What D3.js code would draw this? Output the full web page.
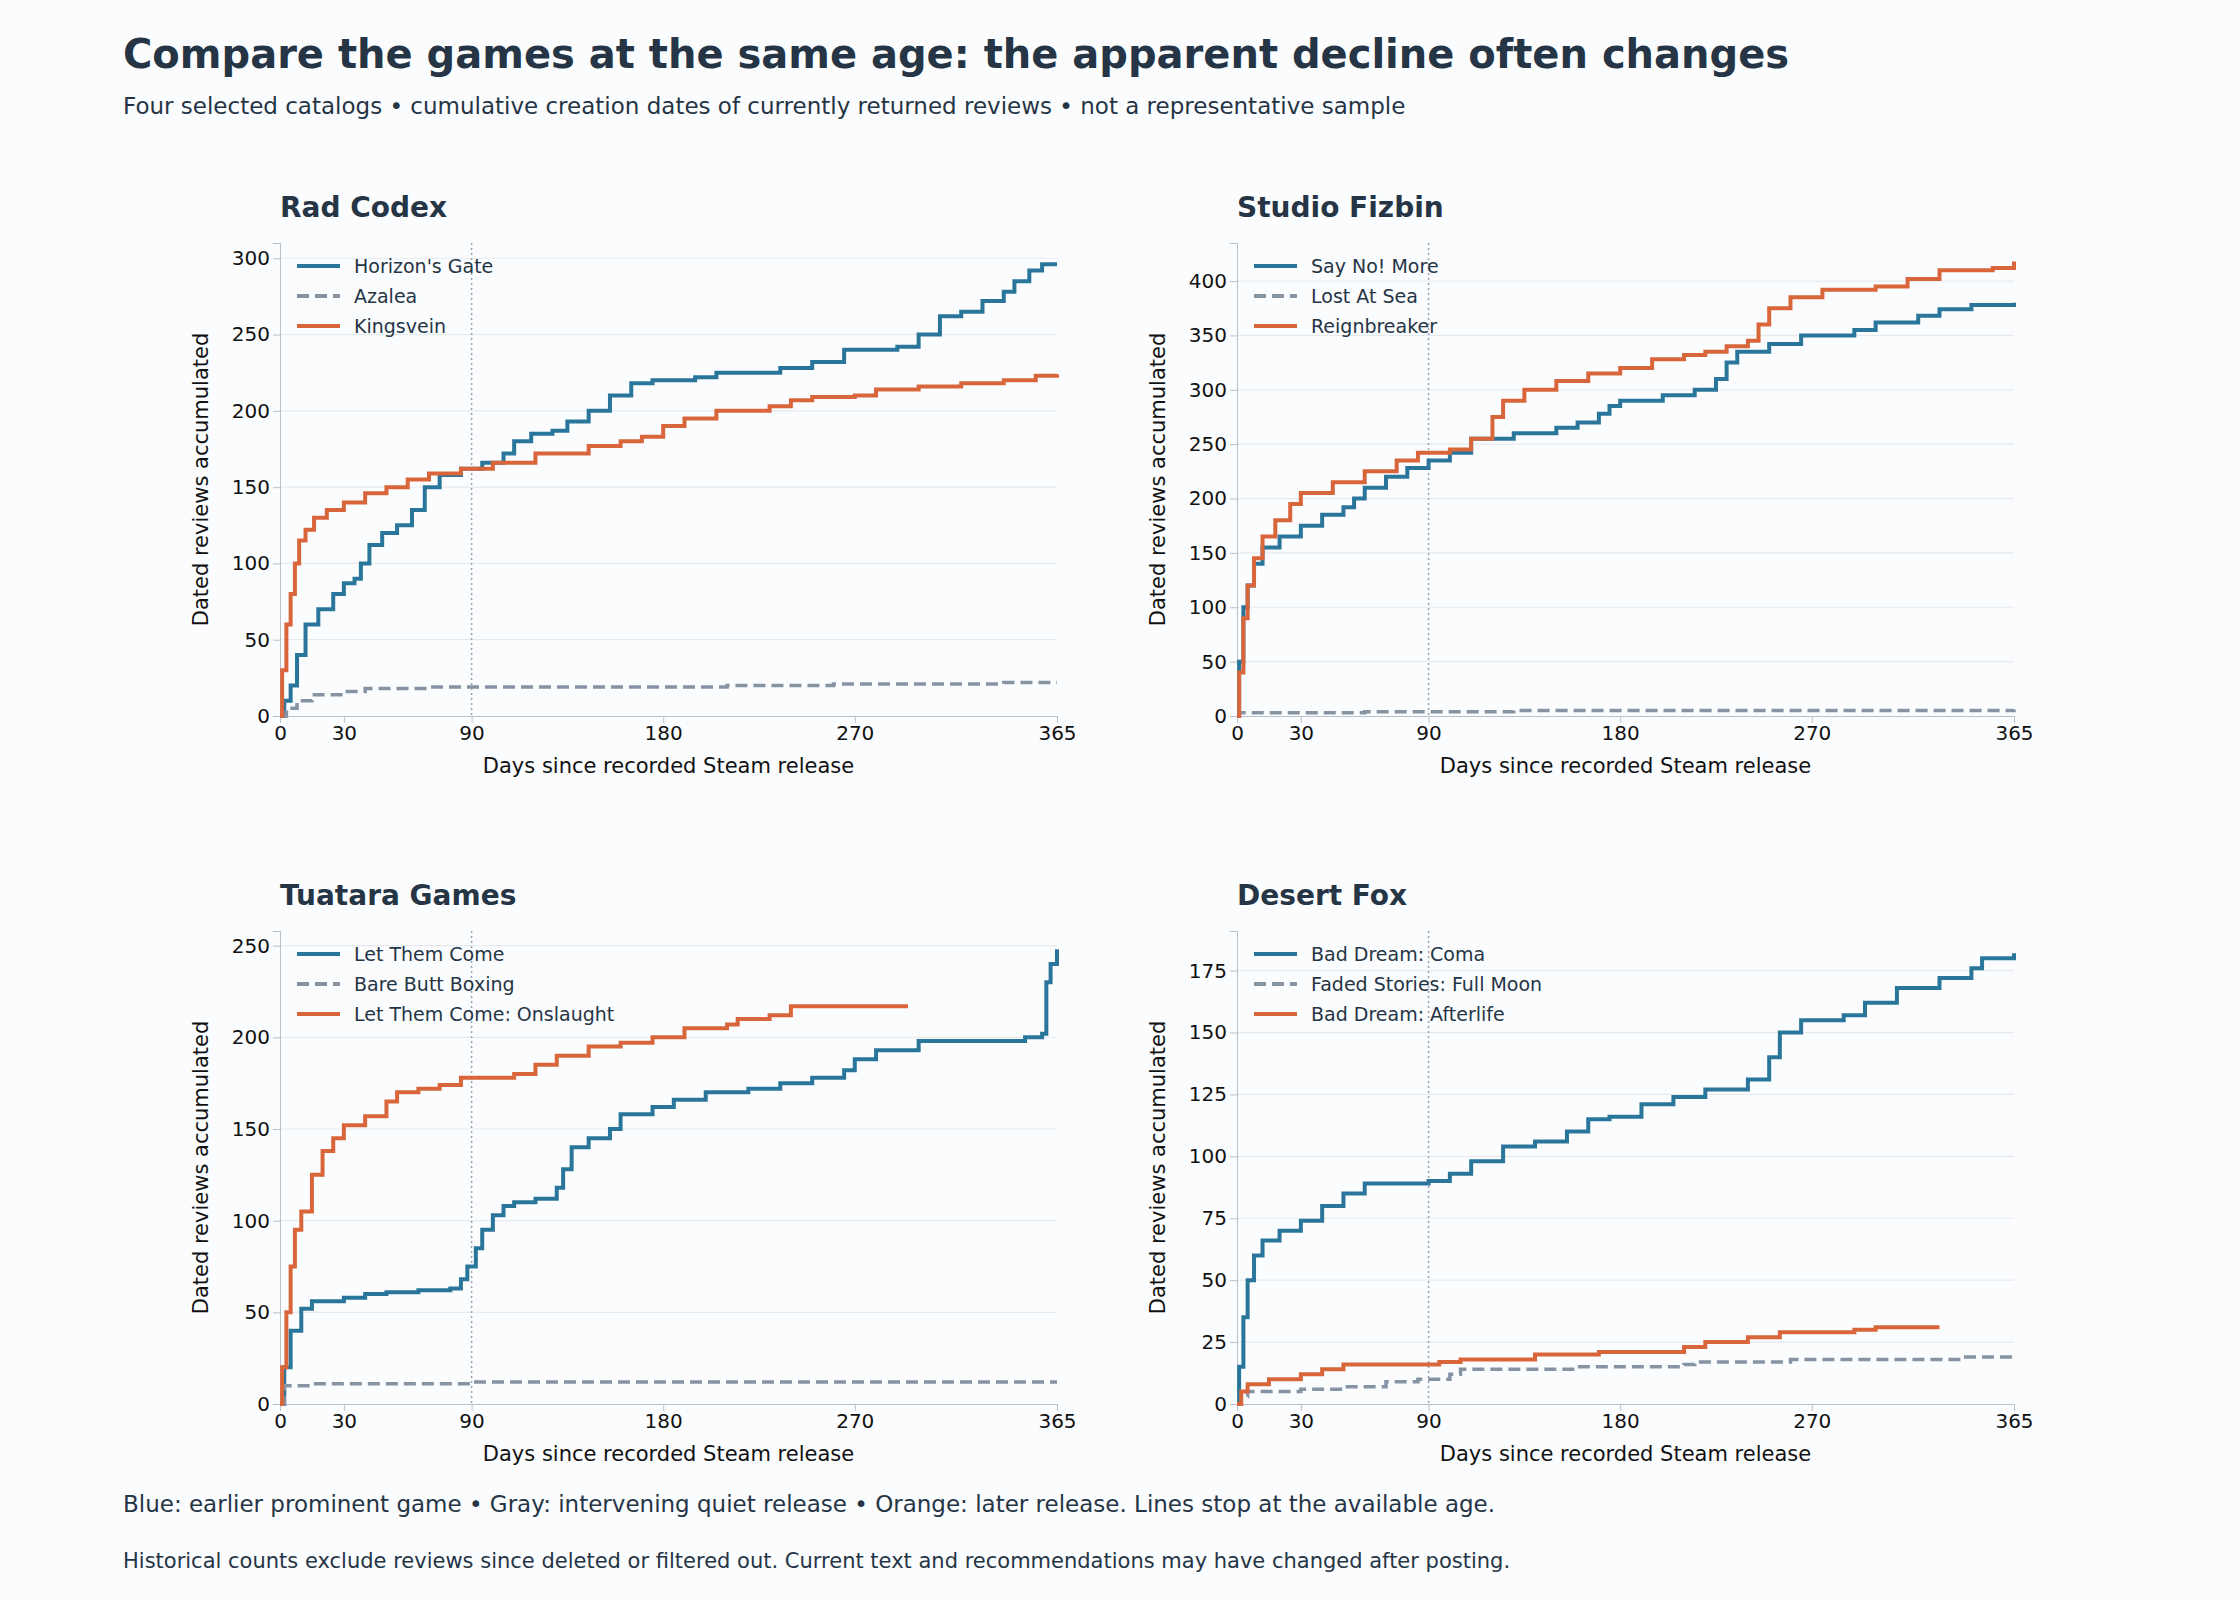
<!DOCTYPE html>
<html><head><meta charset="utf-8">
<script src="https://cdn.jsdelivr.net/npm/d3@7"></script>
<style>body{margin:0;background:#fbfcfe;font-family:"DejaVu Sans",sans-serif;}</style>
</head><body><svg id="c" width="2240" height="1600"></svg>
<script>
const xTicks=[0,30,90,180,270,365];
const panelTitles=["Rad Codex","Studio Fizbin","Tuatara Games","Desert Fox"];
const seriesNames=[["Horizon's Gate","Azalea","Kingsvein"],["Say No! More","Lost At Sea","Reignbreaker"],["Let Them Come","Bare Butt Boxing","Let Them Come: Onslaught"],["Bad Dream: Coma","Faded Stories: Full Moon","Bad Dream: Afterlife"]];
const yMax=[310,435,258,191];
const yTicks=[[0,50,100,150,200,250,300],[0,50,100,150,200,250,300,350,400],[0,50,100,150,200,250],[0,25,50,75,100,125,150,175]];
const radBlue=[[0,0],[2,10],[5,20],[8,40],[12,60],[18,70],[25,80],[30,87],[35,90],[38,100],[42,112],[48,120],[55,125],[62,135],[68,150],[75,158],[85,162],[95,166],[105,172],[110,180],[118,185],[128,187],[135,193],[145,200],[155,210],[165,218],[175,220],[195,222],[205,225],[235,228],[250,232],[265,240],[290,242],[300,250],[310,262],[320,265],[330,272],[340,278],[345,285],[352,292],[358,296],[365,296]];
const radGray=[[0,0],[3,5],[8,10],[15,14],[30,16],[40,18],[70,19],[200,19],[210,20],[260,21],[340,22],[365,22]];
const radOrange=[[0,0],[1,30],[3,60],[5,80],[7,100],[9,115],[12,122],[16,130],[22,135],[30,140],[40,146],[50,150],[60,155],[70,159],[85,162],[100,166],[120,172],[145,177],[160,180],[170,183],[180,190],[190,195],[205,200],[230,203],[240,207],[250,209],[270,210],[280,214],[300,216],[320,218],[340,220],[355,223],[365,224]];
const fizBlue=[[0,0],[1,50],[3,100],[5,120],[8,140],[12,155],[20,165],[30,175],[40,185],[50,192],[55,200],[60,210],[70,220],[80,228],[90,235],[100,242],[110,255],[130,260],[150,265],[160,270],[170,278],[175,285],[180,290],[200,295],[215,300],[225,310],[230,325],[235,335],[250,342],[265,350],[290,355],[300,362],[320,368],[330,374],[345,378],[365,380]];
const fizGray=[[0,0],[1,3],[60,4],[130,5],[365,6]];
const fizOrange=[[0,0],[1,40],[3,90],[5,120],[8,145],[12,165],[18,180],[25,195],[30,205],[45,215],[60,225],[75,235],[85,242],[100,245],[110,255],[120,275],[125,290],[135,300],[150,308],[165,315],[180,320],[195,328],[210,332],[220,335],[230,340],[240,345],[245,360],[250,375],[260,385],[275,392],[300,395],[315,402],[330,410],[355,412],[365,418]];
const tuaBlue=[[0,0],[2,20],[5,40],[10,52],[15,56],[30,58],[40,60],[50,61],[65,62],[80,63],[85,68],[88,75],[92,85],[95,95],[100,103],[105,108],[110,110],[120,112],[130,118],[133,128],[137,140],[145,145],[155,150],[160,158],[175,162],[185,166],[200,170],[220,172],[235,175],[250,178],[265,182],[270,188],[280,193],[300,198],[350,200],[358,202],[360,230],[362,240],[365,248]];
const tuaGray=[[0,0],[2,10],[15,11],[90,12],[365,12]];
const tuaOrange=[[0,0],[1,20],[3,50],[5,75],[7,95],[10,105],[15,125],[20,138],[25,145],[30,152],[40,157],[50,165],[55,170],[65,172],[75,174],[85,178],[100,178],[110,180],[120,185],[130,190],[145,195],[160,197],[175,200],[190,205],[210,207],[215,210],[230,212],[240,217],[295,217]];
const foxBlue=[[0,0],[1,15],[3,35],[5,50],[8,60],[12,66],[20,70],[30,74],[40,80],[50,85],[60,89],[75,89],[90,90],[100,93],[110,98],[125,104],[140,106],[155,110],[165,115],[175,116],[190,121],[205,124],[220,127],[240,131],[250,140],[255,150],[265,155],[285,157],[295,162],[310,168],[330,172],[345,176],[350,180],[365,182]];
const foxGray=[[0,0],[2,3],[5,5],[30,6],[50,7],[70,9],[85,10],[100,12],[105,14],[160,15],[210,16],[215,17],[260,18],[330,18],[340,19],[365,19]];
const foxOrange=[[0,0],[2,5],[5,8],[15,10],[30,12],[40,14],[50,16],[95,17],[105,18],[140,20],[170,21],[210,23],[220,25],[240,27],[255,29],[290,30],[300,31],[330,31]];
const panelData=[[radBlue,radGray,radOrange],[fizBlue,fizGray,fizOrange],[tuaBlue,tuaGray,tuaOrange],[foxBlue,foxGray,foxOrange]];

const colors=["#2a769b","#8593a3","#d9653b"], txt="#253545";
const svg=d3.select("#c");
svg.append("rect").attr("width",2240).attr("height",1600).attr("fill","#fbfcfe");
svg.append("text").attr("x",123).attr("y",68).attr("font-size",40).attr("font-weight","bold").attr("fill",txt).text("Compare the games at the same age: the apparent decline often changes");
svg.append("text").attr("x",123).attr("y",114).attr("font-size",23).attr("fill",txt).text("Four selected catalogs • cumulative creation dates of currently returned reviews • not a representative sample");
svg.append("text").attr("x",123).attr("y",1512).attr("font-size",23).attr("fill",txt).text("Blue: earlier prominent game  •  Gray: intervening quiet release  •  Orange: later release. Lines stop at the available age.");
svg.append("text").attr("x",123).attr("y",1568).attr("font-size",21).attr("fill",txt).text("Historical counts exclude reviews since deleted or filtered out. Current text and recommendations may have changed after posting.");

const lefts=[280,1237], tops=[243,931], W=777, H=473;
panelData.forEach((series,i)=>{
  const L=lefts[i%2], T=tops[Math.floor(i/2)];
  const g=svg.append("g").attr("transform",`translate(${L},${T})`);
  const x=d3.scaleLinear().domain([0,365]).range([0,W]);
  const y=d3.scaleLinear().domain([0,yMax[i]]).range([H,0]);
  g.selectAll(".gr").data(yTicks[i].slice(1)).join("line").attr("x1",0).attr("x2",W).attr("y1",d=>y(d)).attr("y2",d=>y(d)).attr("stroke","#e6eaef").attr("stroke-width",1.2);
  g.append("line").attr("x1",x(90)).attr("x2",x(90)).attr("y1",0).attr("y2",H).attr("stroke","#9aa3ad").attr("stroke-width",1.5).attr("stroke-dasharray","2,3");
  const xa=g.append("g").attr("transform",`translate(0,${H})`).call(d3.axisBottom(x).tickValues(xTicks).tickSize(7));
  const ya=g.append("g").call(d3.axisLeft(y).tickValues(yTicks[i]).tickSize(7));
  [xa,ya].forEach(a=>{a.selectAll("text").attr("font-size",20).attr("fill","#111").attr("font-family","DejaVu Sans");a.selectAll("line,path").attr("stroke","#b8c0ca");});
  const line=d3.line().x(d=>x(d[0])).y(d=>y(d[1])).curve(d3.curveStepAfter);
  series.forEach((s,k)=>{
    g.append("path").datum(s).attr("d",line).attr("fill","none").attr("stroke",colors[k]).attr("stroke-width",k==1?3.5:4).attr("stroke-dasharray",k==1?"12,6":null);
  });
  g.append("text").attr("x",0).attr("y",-26).attr("font-size",28).attr("font-weight","bold").attr("fill",txt).text(panelTitles[i]);
  seriesNames[i].forEach((n,k)=>{
    const yy=23+k*30;
    g.append("line").attr("x1",17).attr("x2",60).attr("y1",yy).attr("y2",yy).attr("stroke",colors[k]).attr("stroke-width",4).attr("stroke-dasharray",k==1?"12,6":null);
    g.append("text").attr("x",74).attr("y",yy+7).attr("font-size",19).attr("fill",txt).text(n);
  });
  g.append("text").attr("x",W/2).attr("y",H+57).attr("text-anchor","middle").attr("font-size",21).attr("fill","#111").text("Days since recorded Steam release");
  g.append("text").attr("transform",`translate(-72,${H/2}) rotate(-90)`).attr("text-anchor","middle").attr("font-size",21).attr("fill","#111").text("Dated reviews accumulated");
});
</script></body></html>
